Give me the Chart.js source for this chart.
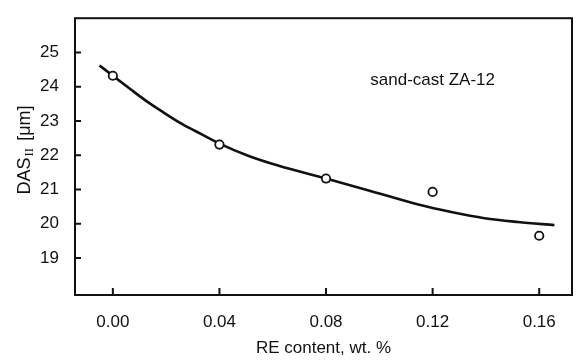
<!DOCTYPE html>
<html><head><meta charset="utf-8">
<script src="https://cdn.jsdelivr.net/npm/chart.js@4.4.1/dist/chart.umd.min.js"></script>
<style>html,body{margin:0;padding:0;background:#fff;overflow:hidden}</style>
</head><body>
<canvas id="c" width="578" height="362"></canvas>
<script>
// ---- data ----
const measuredX   = [0.00, 0.04, 0.08, 0.12, 0.16];
const measuredDAS = [24.32, 22.31, 21.32, 20.93, 19.65];
const fitX   = [-0.005, 0.000, 0.0064, 0.0126, 0.0188, 0.0249, 0.0311, 0.040, 0.051, 0.062, 0.080, 0.097, 0.1146, 0.127, 0.1395, 0.152, 0.1657];
const fitDAS = [24.62, 24.32, 23.94, 23.58, 23.26, 22.96, 22.70, 22.34, 21.98, 21.70, 21.32, 20.95, 20.56, 20.34, 20.16, 20.05, 19.96];
const xTicks = [0.00, 0.04, 0.08, 0.12, 0.16];
const yTicks = [19, 20, 21, 22, 23, 24, 25];
const xTitle = 'RE content, wt. %';
const annotation = 'sand-cast ZA-12';

const INK = '#111';
const FONT = '"Liberation Sans", Arial, sans-serif';
Chart.defaults.font.family = FONT;
Chart.defaults.font.size = 17;
Chart.defaults.color = INK;

const framePlugin = {
  id: 'frame',
  afterDraw(chart) {
    const {ctx, chartArea: a, scales: {x, y}} = chart;
    ctx.save();
    ctx.strokeStyle = INK;
    ctx.lineWidth = 2;
    ctx.strokeRect(a.left, a.top, a.right - a.left, a.bottom - a.top);
    ctx.beginPath();
    xTicks.forEach(v => { const px = x.getPixelForValue(v); ctx.moveTo(px, a.bottom); ctx.lineTo(px, a.bottom - 7); });
    yTicks.forEach(v => { const py = y.getPixelForValue(v); ctx.moveTo(a.left, py); ctx.lineTo(a.left + 6, py); });
    ctx.stroke();

    // annotation
    ctx.fillStyle = INK;
    ctx.font = '17px ' + FONT;
    ctx.textAlign = 'center';
    ctx.textBaseline = 'middle';
    ctx.fillText(annotation, x.getPixelForValue(0.12), y.getPixelForValue(24.2));

    // y-axis title with subscript
    ctx.translate(25, 150);
    ctx.rotate(-Math.PI / 2);
    ctx.textAlign = 'left';
    ctx.textBaseline = 'middle';
    const mainFont = '18px ' + FONT;
    const subFont = '13px "Liberation Serif", serif';
    ctx.font = mainFont; const w1 = ctx.measureText('DAS').width;
    ctx.font = subFont;  const w2 = ctx.measureText('II').width;
    ctx.font = mainFont; const w3 = ctx.measureText(' [μm]').width;
    let s = -(w1 + w2 + w3 + 3) / 2;
    ctx.font = mainFont; ctx.fillText('DAS', s, 0);
    ctx.font = subFont;  ctx.fillText('II', s + w1 + 1, 5);
    ctx.font = mainFont; ctx.fillText(' [μm]', s + w1 + w2 + 3, 0);
    ctx.restore();
  }
};

new Chart(document.getElementById('c'), {
  type: 'scatter',
  data: {
    datasets: [
      {
        label: 'fit',
        data: fitX.map((v, i) => ({x: v, y: fitDAS[i]})),
        showLine: true,
        borderColor: INK,
        borderWidth: 2.6,
        pointRadius: 0,
        tension: 0.4,
        cubicInterpolationMode: 'monotone',
        fill: false,
        order: 2
      },
      {
        label: 'measured',
        data: measuredX.map((v, i) => ({x: v, y: measuredDAS[i]})),
        showLine: false,
        pointStyle: 'circle',
        pointRadius: 4.2,
        pointBorderWidth: 1.8,
        pointBorderColor: INK,
        pointBackgroundColor: '#fff',
        order: 1
      }
    ]
  },
  options: {
    responsive: false,
    animation: false,
    devicePixelRatio: 1,
    layout: {padding: {left: 0, right: 4, top: 10, bottom: 0}},
    plugins: {legend: {display: false}, tooltip: {enabled: false}},
    scales: {
      x: {
        type: 'linear',
        min: -0.0142, max: 0.1723,
        grid: {display: false},
        border: {display: false},
        afterBuildTicks: sc => { sc.ticks = xTicks.map(v => ({value: v})); },
        afterFit: sc => { sc.height = 67; },
        ticks: {padding: 9, maxRotation: 0, autoSkip: false,
                callback: v => Number(v).toFixed(2)},
        title: {display: true, text: xTitle, padding: {top: 0, bottom: 3}}
      },
      y: {
        type: 'linear',
        min: 17.92, max: 26,
        grid: {display: false},
        border: {display: false},
        afterBuildTicks: sc => { sc.ticks = yTicks.map(v => ({value: v})); },
        afterFit: sc => { sc.width = 75; },
        ticks: {padding: 8, autoSkip: false, callback: v => String(v)}
      }
    }
  },
  plugins: [framePlugin]
});
</script>
</body></html>
